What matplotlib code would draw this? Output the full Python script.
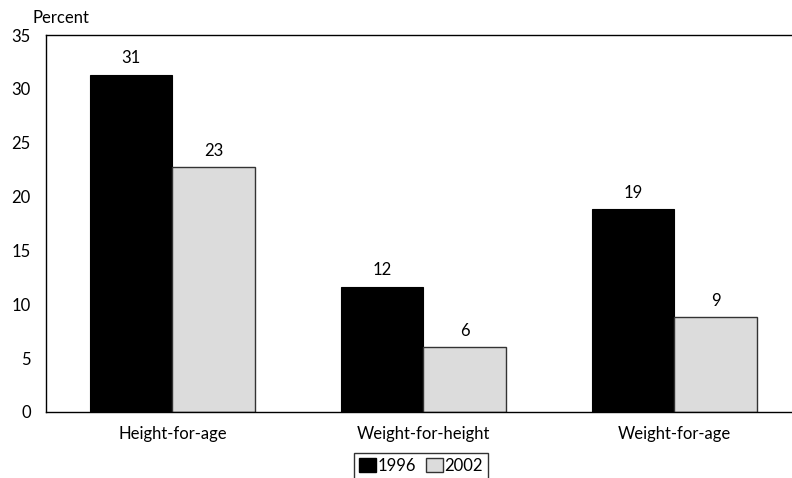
import numpy as np
import matplotlib.pyplot as plt
from matplotlib.patches import Patch

plt.rcParams['font.family'] = ['Lato', 'DejaVu Sans']
plt.rcParams['font.size'] = 12

categories = ['Height-for-age', 'Weight-for-height', 'Weight-for-age']
val_1996 = [31.3, 11.6, 18.8]
val_2002 = [22.7, 6.0, 8.8]
lab_1996 = ['31', '12', '19']
lab_2002 = ['23', '6', '9']

fig = plt.figure(figsize=(7.92, 4.78), dpi=100)
ax = fig.add_axes([46 / 792, 1 - 412 / 478, 1 - 46 / 792 + 0.01, 377 / 478])

x = np.arange(len(categories))
w = 0.328
b1 = ax.bar(x - w / 2, val_1996, w, color='black', edgecolor='black', linewidth=0.8)
b2 = ax.bar(x + w / 2, val_2002, w, color='#dcdcdc', edgecolor='#333333', linewidth=1.0)

for rect, t in zip(b1, lab_1996):
    ax.text(rect.get_x() + rect.get_width() / 2, rect.get_height() + 0.8, t,
            ha='center', va='bottom')
for rect, t in zip(b2, lab_2002):
    ax.text(rect.get_x() + rect.get_width() / 2, rect.get_height() + 0.8, t,
            ha='center', va='bottom')

ax.set_xlim(-0.504, 2.50)
ax.set_ylim(0, 35)
ax.set_yticks(range(0, 36, 5))
ax.set_xticks(x)
ax.set_xticklabels(categories)
ax.tick_params(axis='y', length=0, pad=11)
ax.tick_params(axis='x', length=0, pad=10)
ax.spines['right'].set_visible(False)
for s in ['left', 'top', 'bottom']:
    ax.spines[s].set_linewidth(1.0)

fig.text(33 / 792, 1 - 18 / 478, 'Percent', ha='left', va='center')

handles = [Patch(facecolor='black', edgecolor='black', label='1996'),
           Patch(facecolor='#dcdcdc', edgecolor='#333333', label='2002')]
leg = fig.legend(handles=handles, loc='upper center', bbox_to_anchor=(421 / 792, 1 - 453 / 478),
                 ncol=2, frameon=True, fancybox=False, handlelength=1.0, handleheight=0.9,
                 handletextpad=0.1, columnspacing=0.6, borderpad=0.3, borderaxespad=0)
leg.get_frame().set_edgecolor('black')
leg.get_frame().set_linewidth(1.0)

fig.savefig('out.png', dpi=100)
